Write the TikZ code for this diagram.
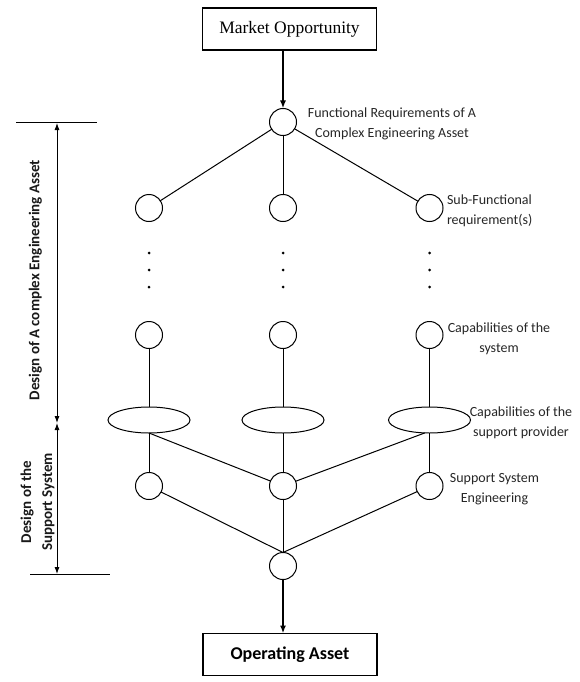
\documentclass[tikz,border=0pt]{standalone}
\usepackage{fontspec}
\usetikzlibrary{arrows.meta,shapes.geometric}
\newfontfamily\labfont{Carlito}
\newfontfamily\serfont{Liberation Serif}
\begin{document}
\begin{tikzpicture}[x=1pt,y=-1pt,
  line width=1pt,
  every node/.style={inner sep=0pt, outer sep=0pt},
  circ/.style={circle, draw, line width=1pt, minimum size=27pt},
  ell/.style={ellipse, draw, line width=1pt, minimum width=82pt, minimum height=26pt},
  boxn/.style={draw, line width=1.1pt, minimum width=174pt, minimum height=42pt},
  lab/.style={font=\labfont\fontsize{14}{20}\selectfont, text=black!85, align=center},
  sidelab/.style={font=\labfont\bfseries\fontsize{15}{21}\selectfont, text=black!90, align=center, rotate=90},
  arr/.style={line width=1.6pt, -{Latex[length=8pt,width=6pt]}},
  dimarr/.style={line width=0.9pt, {Latex[length=7pt,width=5pt]}-{Latex[length=7pt,width=5pt]}},
  dotn/.style={circle, fill, minimum size=3pt}
]
\useasboundingbox (0,0) rectangle (580,682);

% boxes
\node[boxn, font=\serfont\fontsize{17.5}{20}\selectfont] (mo) at (289.5,29) {Market Opportunity};
\node[boxn, font=\labfont\bfseries\fontsize{18}{20}\selectfont] (oa) at (290,654.5) {Operating Asset};

% circles
\node[circ] (t) at (283,122) {};
\node[circ] (s1) at (149,208) {};
\node[circ] (s2) at (283,208) {};
\node[circ] (s3) at (429.5,208) {};
\node[circ] (c1) at (149,335) {};
\node[circ] (c2) at (283,335) {};
\node[circ] (c3) at (429.5,335) {};
\node[ell] (e1) at (149,420) {};
\node[ell] (e2) at (283,420) {};
\node[ell] (e3) at (429.5,420) {};
\node[circ] (p1) at (149,486) {};
\node[circ] (p2) at (283,486) {};
\node[circ] (p3) at (429.5,486) {};
\node[circ] (b) at (283,566) {};

% dots
\foreach \xx/\nm in {149/a,283/b,429.5/c}{
  \foreach \yy/\k in {253/1,270/2,287/3}{
    \node[dotn] (d\nm\k) at (\xx,\yy) {};
  }
}

% arrows
\draw[arr] (t |- mo.south) -- (t);
\draw[arr] (b) -- (b |- oa.north);

% connectors
\draw (t) -- (s1);
\draw (t) -- (s2);
\draw (t) -- (s3);
\draw (c1) -- (e1);
\draw (c2) -- (e2);
\draw (c3) -- (e3);
\draw (e1.south) -- (p1);
\draw (e2.south) -- (p2);
\draw (e3.south) -- (p3);
\draw (e1.south) -- (p2);
\draw (e3.250) -- (p2);
\draw (p1) -- (b.north);
\draw (p2) -- (b);
\draw (p3) -- (b.north);

% labels
\node[lab] (l1) at (392,123.5) {Functional Requirements of A\\Complex Engineering Asset};
\node[lab, anchor=west, align=left] (l2) at (447,210.5) {Sub-Functional\\requirement(s)};
\node[lab] (l3) at (499,339) {Capabilities of the\\system};
\node[lab] (l4) at (521,422.5) {Capabilities of the\\support provider};
\node[lab] (l5) at (494.5,489.5) {Support System\\Engineering};

% dimension lines
\coordinate (dt) at (57,123);
\coordinate (dm) at (57,423);
\coordinate (db) at (57,574);
\coordinate (tl) at (16,123);
\coordinate (tr) at (97,123);
\coordinate (bl) at (30,574);
\coordinate (br) at (110,574);
\draw (tl) -- (tr);
\draw (bl) -- (br);
\draw[dimarr] (dt) -- (dm);
\draw[dimarr] (dm) -- (db);
\node[sidelab] (sl1) at (35.5,280) {Design of A complex Engineering Asset};
\node[sidelab] (sl2) at (37.5,502) {Design of the\\Support System};
\end{tikzpicture}
\end{document}
